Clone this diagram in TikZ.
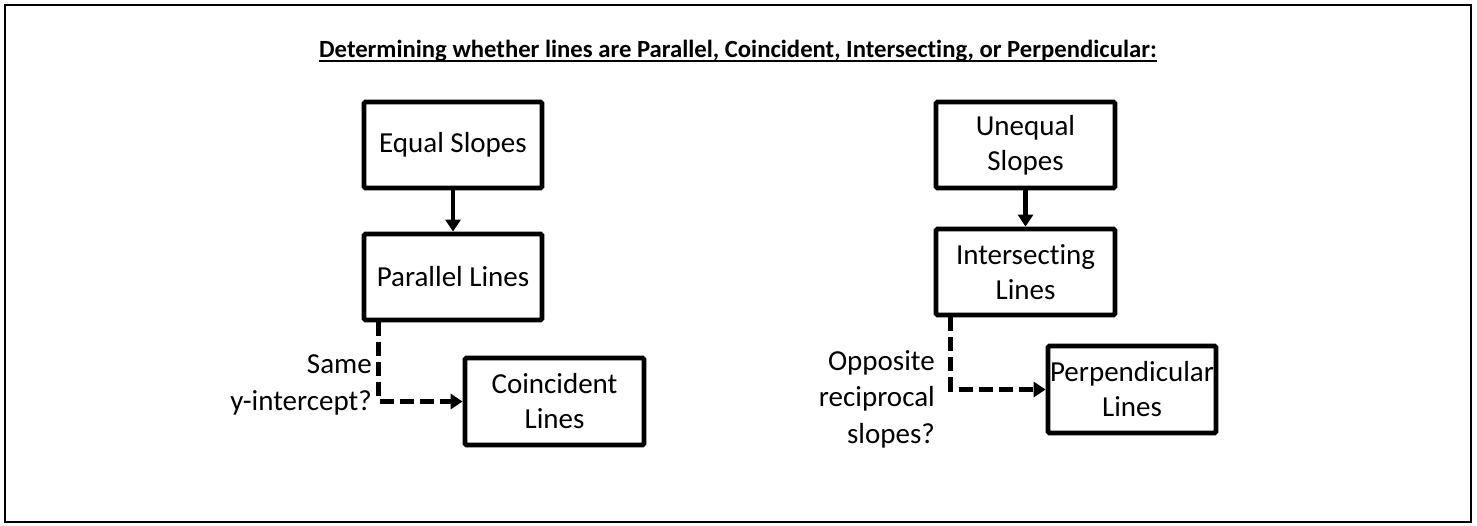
\documentclass[tikz,border=0pt]{standalone}
\usepackage{fontspec}
\setmainfont{Carlito}[Ligatures=NoCommon]
\usetikzlibrary{arrows.meta}
\begin{document}
\begin{tikzpicture}[x=1pt,y=-1pt,
  box/.style={draw,line width=4.8pt,rounded corners=1.5pt,minimum width=178pt,
    minimum height=86pt,align=center,inner xsep=0pt,inner ysep=2pt,
    font=\fontsize{29}{35}\selectfont},
  lbl/.style={align=right,inner sep=0pt,font=\fontsize{29}{36.5}\selectfont},
  solidarrow/.style={line width=4.5pt,-{Triangle[length=12pt,width=15pt]}},
  dasharrow/.style={line width=4.5pt,dash pattern=on 14pt off 6pt,
    -{Triangle[length=12pt,width=15pt]}}]
% page and outer frame
\useasboundingbox (0,0) rectangle (1477,525);
\fill[white] (0,0) rectangle (1477,525);
\draw[line width=2.5pt] (5,5) rectangle (1471,522);

% heading
\node[inner sep=0pt,anchor=base,font=\fontsize{24.7}{28}\selectfont\bfseries] (title) at (738,57)
  {Determining whether lines are Parallel, Coincident, Intersecting, or Perpendicular:};
\draw[line width=2pt] ([yshift=-3.5pt]title.base west) -- ([yshift=-3.5pt]title.base east);

% equal slopes branch
\node[box] (eq) at (453,145) {Equal Slopes};
\node[box] (par) at (453,277) {Parallel Lines};
\node[box,minimum width=179pt,minimum height=87pt] (coin) at (554.5,401.5) {Coincident\\Lines};
\draw[solidarrow] (eq.south) -- (par.north);
\draw[dasharrow] ([xshift=17pt]par.south west) |- (coin.west);
\node[lbl,anchor=east] (same) at (372,385) {Same\\y-intercept?};

% unequal slopes branch
\node[box,minimum width=179pt] (uneq) at (1025.5,145) {Unequal\\Slopes};
\node[box,minimum width=179pt] (inter) at (1025.5,272) {Intersecting\\Lines};
\node[box,minimum width=168pt,minimum height=87pt] (perp) at (1132,389.5) {Perpendicular\\Lines};
\draw[solidarrow] (uneq.south) -- (inter.north);
\draw[dasharrow] ([xshift=17pt]inter.south west) |- (perp.west);
\node[lbl,anchor=east] (opp) at (935,399) {Opposite\\reciprocal\\slopes?};
\end{tikzpicture}
\end{document}
